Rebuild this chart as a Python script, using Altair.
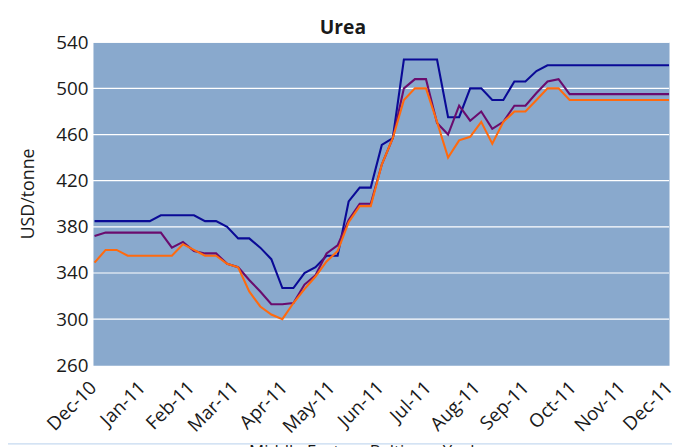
import altair as alt
import pandas as pd

# weekly observation dates (Thursdays)
dates = pd.date_range("2010-12-02", periods=53, freq="7D").strftime("%Y-%m-%d").tolist()

middle_east = [385, 385, 385, 385, 385, 385, 390, 390, 390, 390,
               385, 385, 380, 370, 370, 362, 352, 327, 327, 340,
               345, 355, 355, 402, 414, 414, 451, 457, 525, 525,
               525, 525, 475, 475, 500, 500, 490, 490, 506, 506,
               515, 520, 520, 520, 520, 520, 520, 520, 520, 520,
               520, 520, 520]
baltic = [372, 375, 375, 375, 375, 375, 375, 362, 367, 359,
          357, 357, 348, 345, 334, 324, 313, 313, 314, 330,
          338, 357, 364, 386, 400, 400, 434, 457, 500, 508,
          508, 470, 460, 485, 472, 480, 465, 471, 485, 485,
          496, 506, 508, 495, 495, 495, 495, 495, 495, 495,
          495, 495, 495]
yuzhny = [349, 360, 360, 355, 355, 355, 355, 355, 365, 360,
          355, 355, 348, 345, 324, 311, 304, 300, 314, 326,
          337, 350, 359, 384, 398, 398, 434, 457, 490, 500,
          500, 471, 440, 455, 458, 471, 452, 471, 480, 480,
          490, 500, 500, 490, 490, 490, 490, 490, 490, 490,
          490, 490, 490]

series_names = ["Middle East", "Baltic", "Yuzhny"]
series_colors = ["#0A0A96", "#6A0C6E", "#FF6A0E"]
y_ticks = [260, 300, 340, 380, 420, 460, 500, 540]
grid_values = [300, 340, 380, 420, 460, 500, 540]
month_ticks = [(2010, 12)] + [(2011, m) for m in range(1, 13)]

FONT = "Open Sans"

rows = []
for name, vals in zip(series_names, [middle_east, baltic, yuzhny]):
    for d, v in zip(dates, vals):
        rows.append({"date": d, "value": v, "series": name})
df = pd.DataFrame(rows)

x_scale = alt.Scale(domain=[alt.DateTime(year=2010, month=12, date=1),
                            alt.DateTime(year=2011, month=12, date=1)])
y_scale = alt.Scale(domain=[260, 540], nice=False, zero=False)

x_axis = alt.Axis(
    values=[alt.DateTime(year=y, month=m, date=1) for y, m in month_ticks],
    format="%b-%y", labelAngle=-45, labelAlign="right", labelBaseline="middle",
    labelPadding=19, ticks=False, tickSize=0, domain=False, grid=False,
    labelFont=FONT, labelFontSize=19, labelColor="#1a1a1a", title=None,
    labelOverlap=False, labelFlush=False,
)
y_axis = alt.Axis(
    values=y_ticks, ticks=False, tickSize=0, domain=False, grid=False,
    labelFont=FONT, labelFontSize=19, labelColor="#1a1a1a", labelPadding=5,
    title="USD/tonne", titleFont=FONT, titleFontSize=18, titleFontWeight="normal",
    titleColor="#1a1a1a", titleX=-60, titleY=153, titleBaseline="alphabetic",
    titleAngle=270, titleAlign="center",
)

grid = alt.Chart(pd.DataFrame({"g": grid_values})).mark_rule(
    color="white", strokeWidth=1.2
).encode(y=alt.Y("g:Q", scale=y_scale, axis=y_axis))

lines = alt.Chart(df).mark_line(strokeWidth=2.1).encode(
    x=alt.X("date:T", scale=x_scale, axis=x_axis),
    y=alt.Y("value:Q", scale=y_scale),
    color=alt.Color(
        "series:N",
        scale=alt.Scale(domain=series_names, range=series_colors),
        sort=series_names,
        legend=alt.Legend(
            orient="none", legendX=131, legendY=403, direction="horizontal",
            title=None, symbolType="stroke", symbolSize=400, symbolStrokeWidth=2.1,
            labelFont=FONT, labelFontSize=17, labelColor="#1a1a1a",
            columnPadding=0, labelOffset=4,
        ),
    ),
    order=alt.Order("series:N"),
)

one = pd.DataFrame({"k": [0]})
title = alt.Chart(one).mark_text(
    text="Urea", font=FONT, fontSize=19.5, fontWeight="bold", color="#1a1a1a",
    align="center", baseline="alphabetic",
).encode(x=alt.value(253), y=alt.value(-8))

border_left = alt.Chart(one).mark_rule(color="#2563BD", strokeWidth=1.6).encode(
    x=alt.value(-87), y=alt.value(-36), y2=alt.value(407))
border_top = alt.Chart(one).mark_rule(color="#2563BD", strokeWidth=1.6).encode(
    x=alt.value(-87), x2=alt.value(590), y=alt.value(-36))
border_bottom = alt.Chart(one).mark_rule(color="#C6DAF0", strokeWidth=1.2).encode(
    x=alt.value(-87), x2=alt.value(590), y=alt.value(406.5))

chart = alt.layer(grid, lines, title, border_left, border_top, border_bottom).properties(
    width=583, height=327,
    autosize=alt.AutoSizeParams(type="none"),
    padding={"left": 86, "top": 32, "right": 3, "bottom": 80},
    background="white",
).configure_view(fill="#89A9CD", stroke="transparent")

chart.save("out.html", embed_options={"renderer": "svg", "actions": False})
